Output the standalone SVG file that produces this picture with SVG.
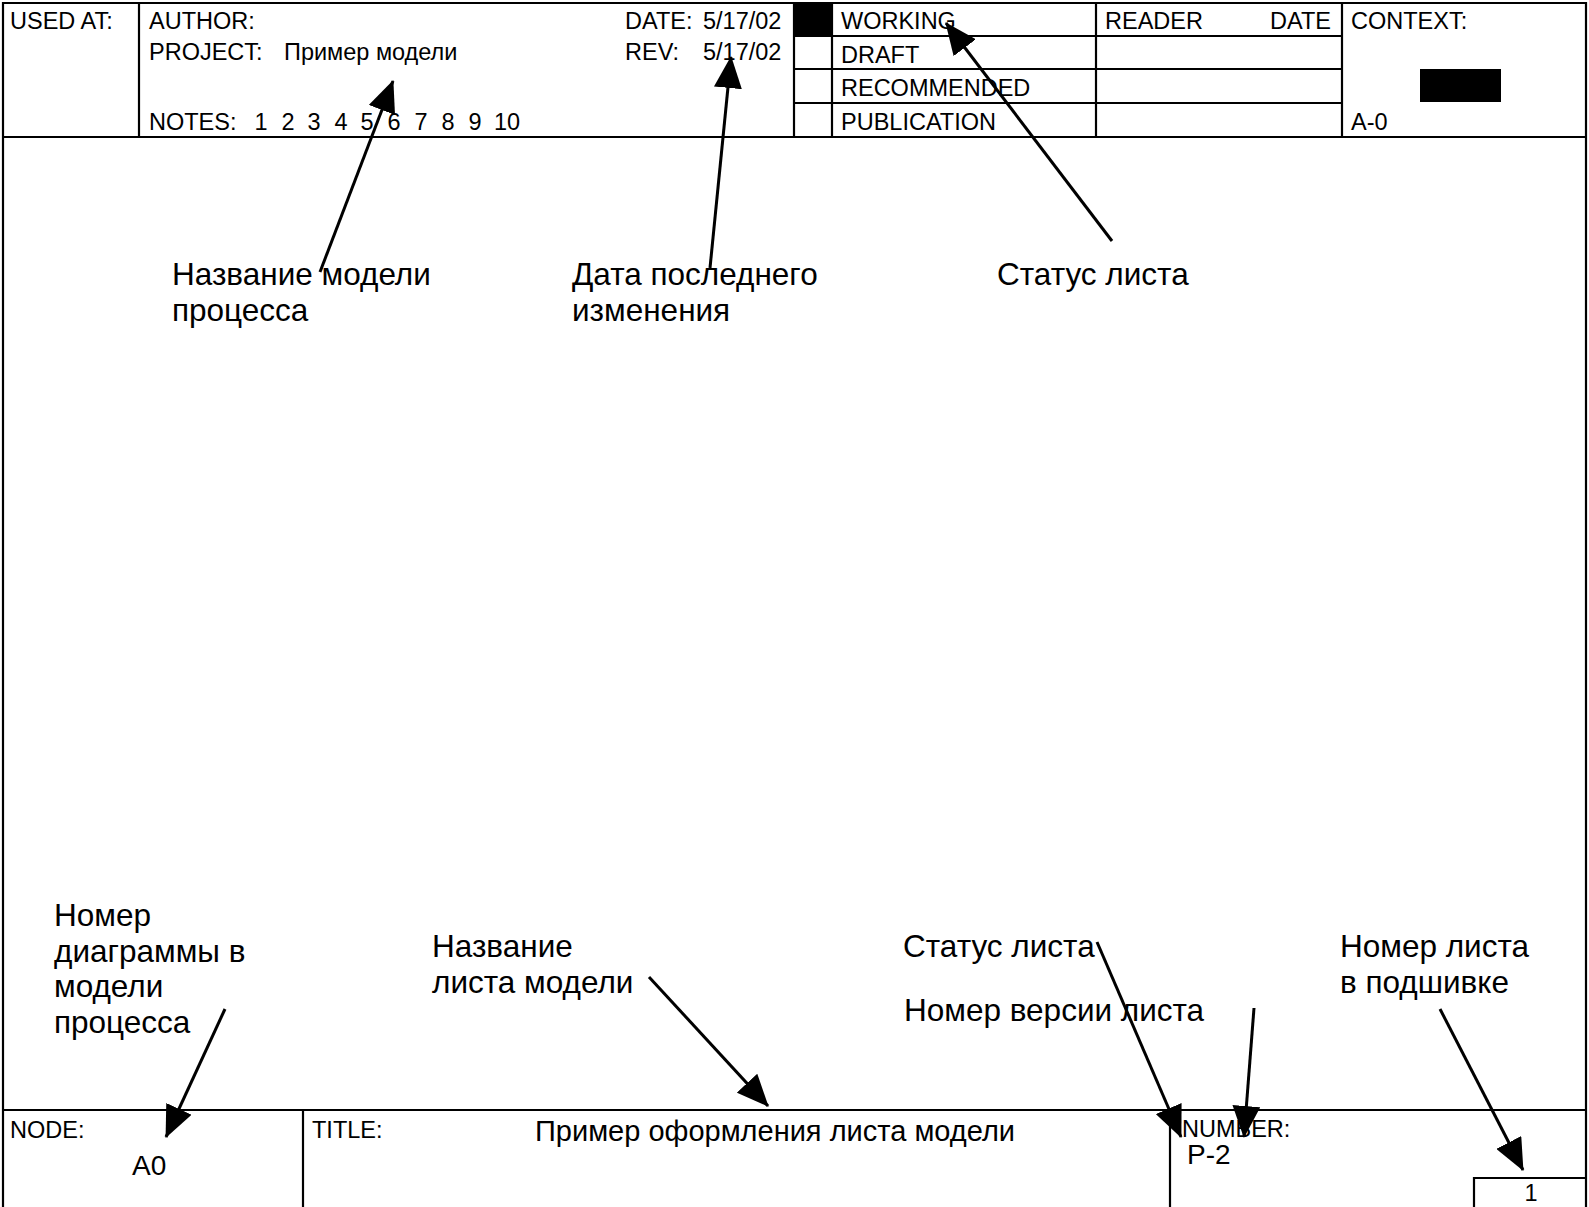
<svg xmlns="http://www.w3.org/2000/svg" width="1589" height="1207" viewBox="0 0 1589 1207">
<style>
.ln{stroke:#000;stroke-width:2.2;fill:none}
.t{font-family:"Liberation Sans",Arial,sans-serif;font-size:23.5px;fill:#000}
.lb{font-family:"Liberation Sans",Arial,sans-serif;font-size:31.5px;fill:#000}
.big{font-family:"Liberation Sans",Arial,sans-serif;font-size:28px;fill:#000}
.ar{stroke:#000;stroke-width:3;fill:none;marker-end:url(#ah)}
</style>
<defs>
<marker id="ah" markerUnits="userSpaceOnUse" markerWidth="32" markerHeight="28" refX="31" refY="14" orient="auto" viewBox="0 0 32 28">
<path d="M0,0 L32,14 L0,28 Z" fill="#000"/>
</marker>
</defs>
<rect x="0" y="0" width="1589" height="1207" fill="#fff"/>
<g id="frame">
<path class="ln" d="M3,1207 L3,3 L1586,3 L1586,1207"/>
<line class="ln" x1="3" y1="137" x2="1586" y2="137"/>
</g>
<g id="used-at">
<text class="t" x="10" y="29">USED AT:</text>
<line class="ln" x1="139" y1="3" x2="139" y2="137"/>
</g>
<g id="author-block">
<text class="t" x="149" y="29">AUTHOR:</text>
<text class="t" x="149" y="60">PROJECT:</text>
<text class="t" x="284" y="60">Пример модели</text>
<text class="t" x="149" y="130">NOTES:</text>
<text class="t" y="130" text-anchor="middle"><tspan x="261">1</tspan><tspan x="288">2</tspan><tspan x="314">3</tspan><tspan x="341">4</tspan><tspan x="367">5</tspan><tspan x="394">6</tspan><tspan x="421">7</tspan><tspan x="448">8</tspan><tspan x="475">9</tspan><tspan x="507">10</tspan></text>
<text class="t" x="625" y="29">DATE: <tspan x="703">5/17/02</tspan></text>
<text class="t" x="625" y="60">REV: <tspan x="703">5/17/02</tspan></text>
</g>
<g id="status-block">
<rect x="794" y="3" width="38" height="33" fill="#000"/>
<line class="ln" x1="794" y1="3" x2="794" y2="137"/>
<line class="ln" x1="832" y1="3" x2="832" y2="137"/>
<line class="ln" x1="794" y1="36" x2="1342" y2="36"/>
<line class="ln" x1="794" y1="69" x2="1342" y2="69"/>
<line class="ln" x1="794" y1="103" x2="1342" y2="103"/>
<text class="t" x="841" y="29">WORKING</text>
<text class="t" x="841" y="63">DRAFT</text>
<text class="t" x="841" y="96">RECOMMENDED</text>
<text class="t" x="841" y="130">PUBLICATION</text>
</g>
<g id="reader-block">
<line class="ln" x1="1096" y1="3" x2="1096" y2="137"/>
<text class="t" x="1105" y="29">READER</text>
<text class="t" x="1331" y="29" text-anchor="end">DATE</text>
</g>
<g id="context-block">
<line class="ln" x1="1342" y1="3" x2="1342" y2="137"/>
<text class="t" x="1351" y="29">CONTEXT:</text>
<rect x="1420" y="69" width="81" height="33" fill="#000"/>
<text class="t" x="1351" y="130">A-0</text>
</g>
<g id="bottom-frame">
<line class="ln" x1="3" y1="1110" x2="1586" y2="1110"/>
</g>
<g id="node-cell">
<text class="t" x="10" y="1138">NODE:</text>
<text class="big" x="132" y="1175">A0</text>
<line class="ln" x1="303" y1="1110" x2="303" y2="1207"/>
</g>
<g id="title-cell">
<text class="t" x="312" y="1138">TITLE:</text>
<text class="big" x="535" y="1141" style="font-size:29px">Пример оформления листа модели</text>
<line class="ln" x1="1170" y1="1110" x2="1170" y2="1207"/>
</g>
<g id="number-cell">
<text class="t" x="1182" y="1137">NUMBER:</text>
<text class="big" x="1187" y="1164">P-2</text>
</g>
<g id="sheet-box">
<path class="ln" d="M1474,1207 L1474,1178 L1586,1178"/>
<text class="t" x="1531" y="1201" text-anchor="middle">1</text>
</g>
<g id="label-model-name">
<text class="lb" x="172" y="285">Название модели</text>
<text class="lb" x="172" y="321">процесса</text>
</g>
<g id="label-date">
<text class="lb" x="572" y="285">Дата последнего</text>
<text class="lb" x="572" y="321">изменения</text>
</g>
<g id="label-status-top">
<text class="lb" x="997" y="285">Статус листа</text>
</g>
<g id="label-diagram-number">
<text class="lb" x="54" y="926">Номер</text>
<text class="lb" x="54" y="961.5">диаграммы в</text>
<text class="lb" x="54" y="997">модели</text>
<text class="lb" x="54" y="1032.5">процесса</text>
</g>
<g id="label-sheet-name">
<text class="lb" x="432" y="957">Название</text>
<text class="lb" x="432" y="993">листа модели</text>
</g>
<g id="label-status-bottom">
<text class="lb" x="903" y="957">Статус листа</text>
</g>
<g id="label-version">
<text class="lb" x="904" y="1021">Номер версии листа</text>
</g>
<g id="label-sheet-number">
<text class="lb" x="1340" y="957">Номер листа</text>
<text class="lb" x="1340" y="993">в подшивке</text>
</g>
<g id="connectors">
<line class="ar" x1="320" y1="272" x2="393" y2="81"/>
<line class="ar" x1="710" y1="268" x2="731" y2="57"/>
<line class="ar" x1="1112" y1="241" x2="946" y2="23"/>
<line class="ar" x1="225" y1="1009" x2="166" y2="1137"/>
<line class="ar" x1="649" y1="977" x2="768" y2="1106"/>
<line class="ar" x1="1097" y1="942" x2="1181" y2="1137"/>
<line class="ar" x1="1254" y1="1008" x2="1244" y2="1137"/>
<line class="ar" x1="1440" y1="1009" x2="1523" y2="1170"/>
</g>
</svg>
